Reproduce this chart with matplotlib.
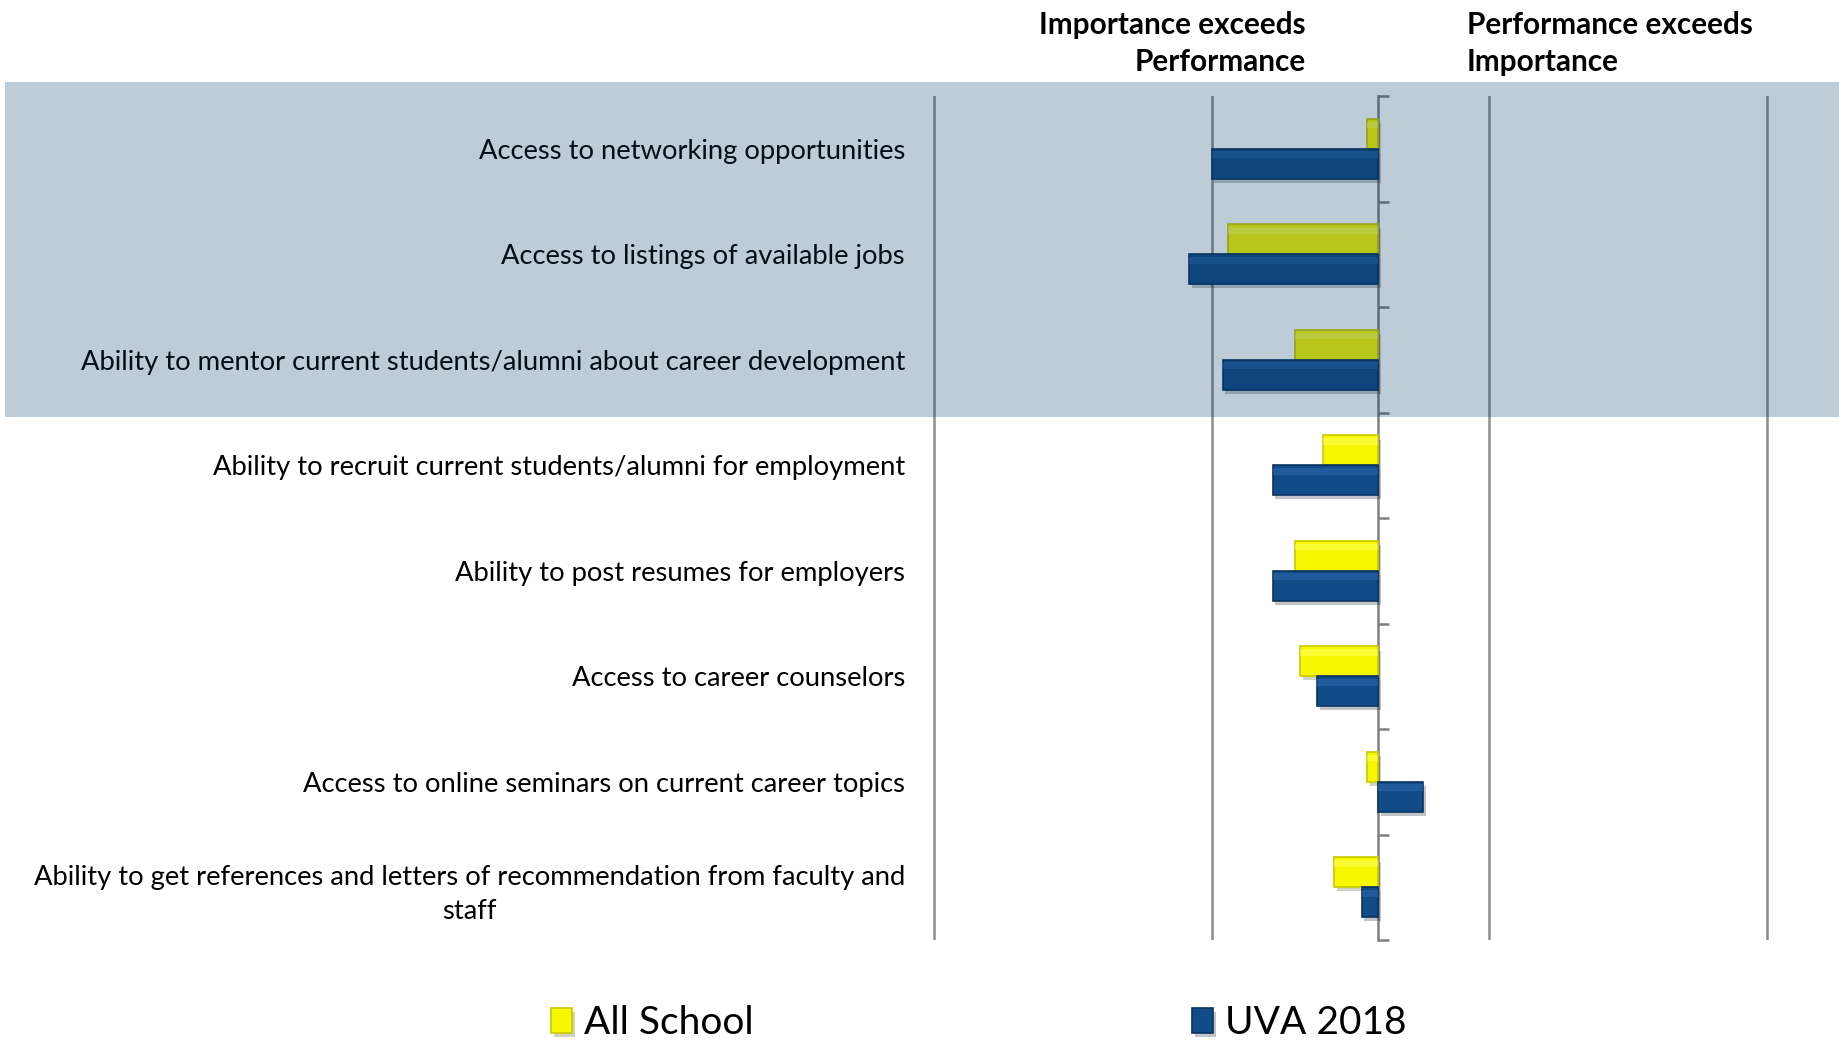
import matplotlib
matplotlib.use("Agg")
import matplotlib.pyplot as plt
import matplotlib.patheffects as pe
from matplotlib.patches import Rectangle
import numpy as np

categories = [
    "Access to networking opportunities",
    "Access to listings of available jobs",
    "Ability to mentor current students/alumni about career development",
    "Ability to recruit current students/alumni for employment",
    "Ability to post resumes for employers",
    "Access to career counselors",
    "Access to online seminars on current career topics",
    "Ability to get references and letters of recommendation from faculty and\nstaff",
]
all_school = [-0.02, -0.27, -0.15, -0.10, -0.15, -0.14, -0.02, -0.08]
uva_2018 = [-0.30, -0.34, -0.28, -0.19, -0.19, -0.11, 0.08, -0.03]
series_names = ["All School", "UVA 2018"]
gridline_values = [-0.8, -0.3, 0.2, 0.7]

plt.rcParams['font.family'] = ['Lato', 'DejaVu Sans']

fig = plt.figure(figsize=(18.4, 10.41), dpi=100)
ax = fig.add_axes([932/1840, 1 - 940/1041, 837/1840, 844/1041])

y = np.arange(len(categories))
h = 0.283
yellow = "#F7F700"
yellow_edge = "#C9C900"
blue = "#124C88"
blue_edge = "#0A335F"
shadow = [pe.SimplePatchShadow(offset=(2, -3), alpha=0.25), pe.Normal()]

b1 = ax.barh(y - h/2, all_school, height=h, color=yellow, edgecolor=yellow_edge,
             linewidth=1.2, zorder=3, label=series_names[0])
b2 = ax.barh(y + h/2, uva_2018, height=h, color=blue, edgecolor=blue_edge,
             linewidth=1.2, zorder=3, label=series_names[1])
for bar in list(b1) + list(b2):
    bar.set_path_effects(shadow)

# bevel highlight strips
for vals, off, col in [(all_school, -h/2, "#FFFF66"), (uva_2018, h/2, "#2E6DAE")]:
    ax.barh(y + off - h*0.30, vals, height=h*0.22, color=col, linewidth=0, zorder=4, alpha=0.5)

ax.set_ylim(len(categories) - 0.5, -0.5)
ax.set_xlim(-0.803, 0.703)

ax.set_xticks(gridline_values)
ax.set_xticklabels([])
ax.tick_params(axis='x', length=0)
ax.grid(axis='x', color="#8C8C8C", linewidth=1.8, zorder=0)
ax.set_axisbelow(True)

for s in ['top', 'bottom', 'left']:
    ax.spines[s].set_visible(False)
ax.spines['right'].set_position(('data', 0))
ax.spines['right'].set_color("#7F7F7F")
ax.spines['right'].set_linewidth(1.8)

ax.set_yticks(y)
lbls = ax.set_yticklabels(categories, fontsize=19.7)
for t in lbls:
    t.set_multialignment('center')
    t.set_linespacing(1.45)
ax.set_yticks(np.arange(len(categories) + 1) - 0.5, minor=True)
ax.tick_params(axis='y', which='major', left=True, right=False, length=0, pad=19.4,
               labelleft=True, labelright=False)
ax.tick_params(axis='y', which='minor', left=False, right=True, direction='out',
               length=8, width=1.8, color="#7F7F7F")

# headers
hdr = dict(va='center', fontsize=21.4, fontweight='bold')
fig.text(1306/1840, 1 - 25/1041, "Importance exceeds", ha='right', **hdr)
fig.text(1306/1840, 1 - 62/1041, "Performance", ha='right', **hdr)
fig.text(1467/1840, 1 - 25/1041, "Performance exceeds", ha='left', **hdr)
fig.text(1467/1840, 1 - 62/1041, "Importance", ha='left', **hdr)

# highlight band
band = Rectangle((5/1840, 1 - 417/1041), 1 - 5/1840, (417 - 82)/1041,
                 transform=fig.transFigure, facecolor="#003766", alpha=0.255,
                 edgecolor='none', zorder=10)
fig.patches.append(band)

# legend entries
leg_x = [551/1840, 1192/1840]
for handle, name, lx in zip([b1, b2], series_names, leg_x):
    fig.legend(handles=[handle], labels=[name], loc='center left',
               bbox_to_anchor=(lx, 1 - 1023/1041), frameon=False,
               fontsize=28, handlelength=0.55, handleheight=0.6, handletextpad=0.3,
               borderaxespad=0, borderpad=0)

fig.savefig("out.png", dpi=100)
